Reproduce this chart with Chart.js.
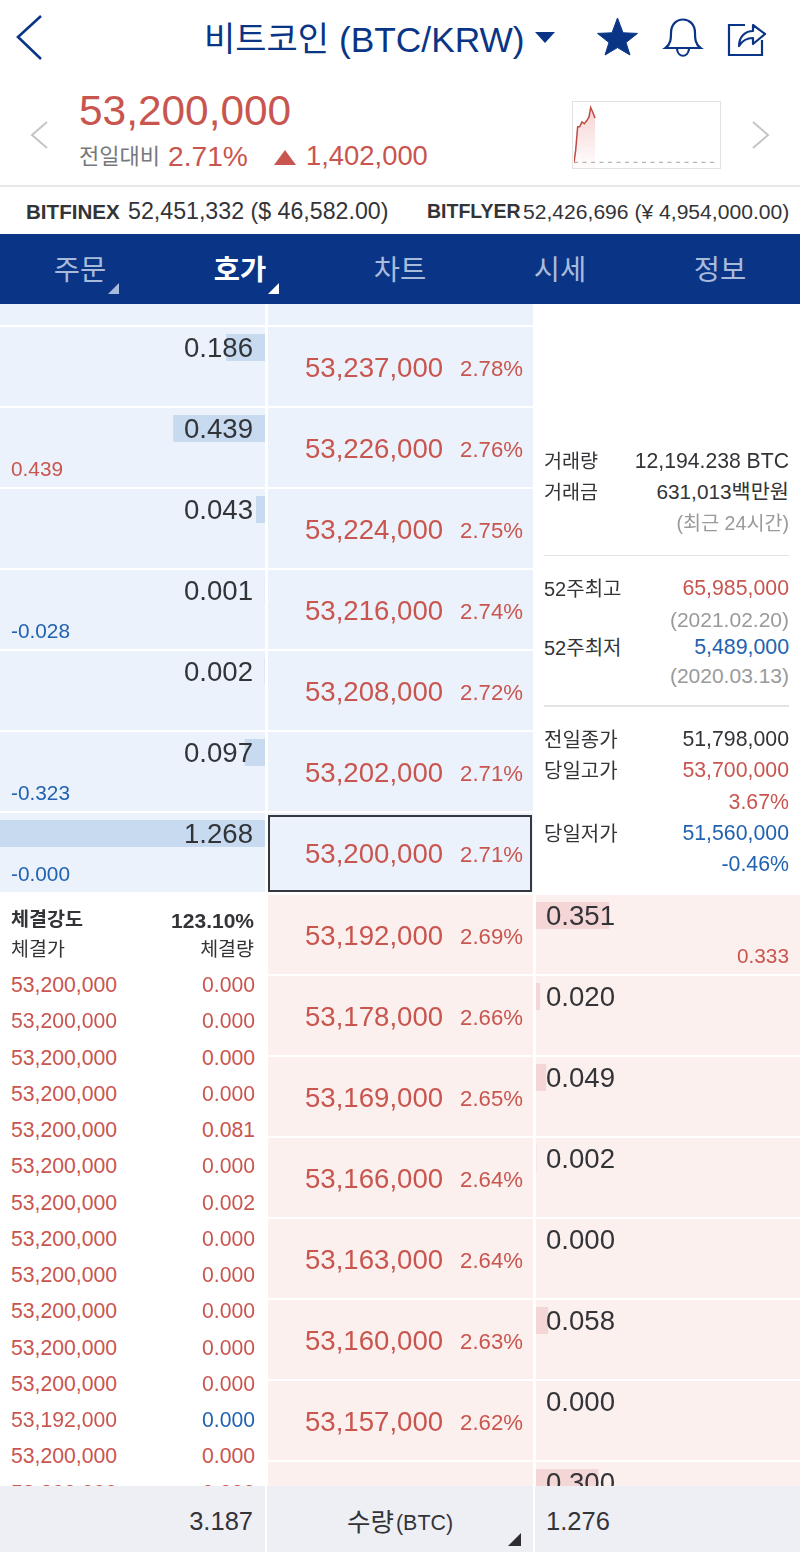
<!DOCTYPE html>
<html lang="ko"><head><meta charset="utf-8">
<script src="https://cdn.jsdelivr.net/npm/chart.js@4"></script>
<style>
html,body{margin:0;padding:0;background:#fff;width:800px;height:1552px;overflow:hidden;font-family:"Liberation Sans","Noto Sans CJK KR",sans-serif}
#page{position:relative;width:800px;height:1552px;overflow:hidden}
.b{position:absolute}
.t{position:absolute;white-space:nowrap;line-height:1;transform:translateY(-50%)}
canvas{position:absolute}
svg{position:absolute;left:0;top:0}
</style></head><body><div id="page"></div>
<script>
// ---------- data ----------
const askPrices=["53,237,000","53,226,000","53,224,000","53,216,000","53,208,000","53,202,000","53,200,000"];
const askPercents=["2.78%","2.76%","2.75%","2.74%","2.72%","2.71%","2.71%"];
const askVolumes=[0.186,0.439,0.043,0.001,0.002,0.097,1.268];
const askChanges=["","0.439","","-0.028","","-0.323","-0.000"];
const bidPrices=["53,192,000","53,178,000","53,169,000","53,166,000","53,163,000","53,160,000","53,157,000"];
const bidPercents=["2.69%","2.66%","2.65%","2.64%","2.64%","2.63%","2.62%"];
const bidVolumes=[0.351,0.020,0.049,0.002,0.000,0.058,0.000,0.300];
const bidChanges=["0.333"];
const volumeMax=1.268;
const tradePrices=["53,200,000","53,200,000","53,200,000","53,200,000","53,200,000","53,200,000","53,200,000","53,200,000","53,200,000","53,200,000","53,200,000","53,200,000","53,192,000","53,200,000","53,200,000"];
const tradeVolumes=["0.000","0.000","0.000","0.000","0.081","0.000","0.002","0.000","0.000","0.000","0.000","0.000","0.000","0.000","0.000"];
const sparkHours=[0,0.28,0.62,0.96,1.35,1.75,2.14,2.54,2.82,3.15,3.55];
const sparkPrices=[51798000,52200000,53000000,53000000,53160000,53100000,53200000,53330000,53650000,53500000,53290000];
const prevClose=51798000;
const tabs=["주문","호가","차트","시세","정보"];

// ---------- helpers ----------
const RED="#c9554f",BLUE="#2163b0",NAVY="#0a3586",DARK="#333438",GRAY="#9a9a9a";
const ASKBG="#ecf2fb",BIDBG="#fbf0ee";
const page=document.getElementById("page");
function box(x,y,w,h,bg,z,extra){const d=document.createElement("div");d.className="b";
  d.style.cssText=`left:${x}px;top:${y}px;width:${w}px;height:${h}px;background:${bg};z-index:${z||1};${extra||""}`;page.appendChild(d);return d;}
function txt(s,x,cy,size,color,align,weight,z){const d=document.createElement("div");d.className="t";d.textContent=s;
  let st=`top:${cy}px;font-size:${size}px;color:${color};z-index:${z||5};font-weight:${weight||400};`;
  st+=align==="r"?`right:${800-x}px;`:align==="c"?`left:${x}px;transform:translate(-50%,-50%);`:`left:${x}px;`;
  d.style.cssText=st;page.appendChild(d);return d;}
function cv(x,y,w,h,z){const c=document.createElement("canvas");c.width=w;c.height=h;
  c.style.cssText=`left:${x}px;top:${y}px;width:${w}px;height:${h}px;z-index:${z||3}`;page.appendChild(c);return c;}

// ---------- chrome ----------
txt("비트코인",204,39,34,NAVY);
txt("(BTC/KRW)",339,39.5,35.3,NAVY);
txt("53,200,000",79,111,42.4,RED);
txt("전일대비",79,157,22,"#77787c");
txt("2.71%",168,155.5,28.2,RED);
txt("1,402,000",306,155.5,27.4,RED);
box(0,185,800,2,"#e8e8e8");
txt("BITFINEX",26,211.5,20.6,DARK,"l",700);
txt("52,451,332 ($ 46,582.00)",128,211.5,23.2,DARK);
txt("BITFLYER",427,211.5,19.5,DARK,"l",700);
txt("52,426,696 (¥ 4,954,000.00)",523,211.5,21.1,DARK);
box(0,234,800,70,NAVY);
tabs.forEach((s,i)=>txt(s,80+160*i,270,28.5,i===1?"#fff":"#a9bbdb","c",i===1?700:400));

// ---------- rows ----------
box(0,304,265,21,ASKBG);box(268,304,265,21,ASKBG);
askPrices.forEach((p,i)=>{const y=327+81*i;
  box(0,y,265,79,ASKBG);box(268,y,265,79,ASKBG);
  txt(askVolumes[i].toFixed(3),253,348+81*i,27.6,DARK,"r");
  if(askChanges[i])txt(askChanges[i],11,y+61,20.8,askChanges[i][0]==="-"?BLUE:RED);
  txt(p,305,y+41,27.6,RED);
  txt(askPercents[i],523,y+42,22.2,RED,"r");
});
box(268,815,264,77,ASKBG,2,"box-sizing:border-box;border:2.5px solid #35383d");
bidVolumes.forEach((v,i)=>{const y=895+81*i;
  box(268,y,265,79,BIDBG);box(536,y,264,79,BIDBG);
  txt(v.toFixed(3),546,916+81*i,27.6,DARK);
  if(i<bidPrices.length){txt(bidPrices[i],305,y+41,27.6,RED);txt(bidPercents[i],523,y+42,22.2,RED,"r");}
});
txt(bidChanges[0],789,956,20.8,RED,"r");

// ---------- trade list ----------
txt("체결강도",11,920,19.6,DARK,"l",700);
txt("123.10%",254,919.5,21,DARK,"r",700);
txt("체결가",11,950,19.5,DARK);
txt("체결량",254,950,19.5,DARK,"r");
tradePrices.forEach((p,i)=>{const cy=985.2+36.25*i;
  txt(p,11,cy,21.2,RED);
  txt(tradeVolumes[i],255,cy,21.2,p==="53,192,000"?BLUE:RED,"r");
});

// ---------- info panel ----------
const L=544,R=789;
txt("거래량",L,462,19.6,DARK);txt("12,194.238 BTC",R,460.5,21.2,DARK,"r");
txt("거래금",L,493,19.6,DARK);txt("631,013백만원",R,492,20.8,DARK,"r");
txt("(최근 24시간)",R,524,19.6,GRAY,"r");
box(544,554.5,245,1.5,"#e4e4e4");
txt("52주최고",L,589,20,DARK);txt("65,985,000",R,588.5,21.3,RED,"r");
txt("(2021.02.20)",R,619,21,GRAY,"r");
txt("52주최저",L,648,20,DARK);txt("5,489,000",R,647.5,21.3,BLUE,"r");
txt("(2020.03.13)",R,675,21,GRAY,"r");
box(544,705,245,1.5,"#e4e4e4");
txt("전일종가",L,740,20,DARK);txt("51,798,000",R,739.5,21.3,DARK,"r");
txt("당일고가",L,771,20,DARK);txt("53,700,000",R,770.5,21.3,RED,"r");
txt("3.67%",R,802.5,21.3,RED,"r");
txt("당일저가",L,834,20,DARK);txt("51,560,000",R,833.5,21.3,BLUE,"r");
txt("-0.46%",R,865,21.3,BLUE,"r");

// ---------- footer ----------
box(0,1486,800,66,"#eeeff5",8);
box(265,1486,2,66,"#fff",8);box(533,1486,2,66,"#fff",8);
txt("3.187",253,1521.5,25.5,DARK,"r",400,9);
txt("수량",347,1523,25.5,DARK,"l",400,9);
txt("(BTC)",396,1524,21.4,DARK,"l",400,9);
txt("1.276",546,1521.5,25.5,DARK,"l",400,9);

// ---------- icons ----------
page.insertAdjacentHTML("beforeend",`<svg width="800" height="1552" style="z-index:10;pointer-events:none">
<path d="M41 16 L18 37 L41 59" fill="none" stroke="${NAVY}" stroke-width="2.6"/>
<path d="M535 32 H555 L545 43 Z" fill="${NAVY}"/>
<path d="M617.5 18 L623 32.8 L637.5 33.4 L626 42.5 L630 55 L617.5 47.6 L605 55 L609 42.5 L597.5 33.4 L612 32.8 Z" fill="${NAVY}" stroke="${NAVY}" stroke-width="1" stroke-linejoin="round"/>
<path d="M665.5 48 C671 44 671 38 671 33 C671 15 695 15 695 33 C695 38 695 44 700.5 48 Z M677 49 C678 58 688 58 689 49" fill="none" stroke="${NAVY}" stroke-width="2.2"/>
<path d="M745 25 H729 V55 H762 V40" fill="none" stroke="${NAVY}" stroke-width="2.2"/>
<path d="M739 46 C739 36 746 31 753 31 V25 L765 34 L753 44 V38 C747 38 742 41 739 46 Z" fill="none" stroke="${NAVY}" stroke-width="2.2" stroke-linejoin="round"/>
<path d="M47 122 L32 135 L47 148" fill="none" stroke="#c4c4c4" stroke-width="2"/>
<path d="M753 122 L768 135 L753 148" fill="none" stroke="#c4c4c4" stroke-width="2"/>
<path d="M274 165 L285 150 L296 165 Z" fill="${RED}"/>
<path d="M108 294 L119 283 V294 Z" fill="#a9bbdb"/>
<path d="M268 294 L279 283 V294 Z" fill="#fff"/>
<path d="M508 1546 L521 1533 V1546 Z" fill="#2e2e30"/>
</svg>`);

// ---------- charts ----------
Chart.defaults.animation=false;
Chart.defaults.responsive=false;
function volumeChart(canvas,values,reverse,color){
  return new Chart(canvas,{type:"bar",
    data:{labels:values.map((_,i)=>i),datasets:[{data:values,backgroundColor:color,barThickness:27,borderWidth:0,inflateAmount:0}]},
    options:{indexAxis:"y",maintainAspectRatio:false,layout:{padding:0},
      plugins:{legend:{display:false},tooltip:{enabled:false}},
      scales:{x:{display:false,min:0,max:volumeMax,reverse:reverse},y:{display:false}}}});
}
volumeChart(cv(0,307,265,81*askVolumes.length),askVolumes,true,"#c7daf0");
volumeChart(cv(536,875,264,81*bidVolumes.length),bidVolumes,false,"#f3d6d5");

box(572,101,149,68,"#fff",2,"box-sizing:border-box;border:1px solid #e2e2e2");
const sc=cv(574,102,142,66,4);
new Chart(sc,{type:"line",
  data:{datasets:[
    {data:sparkHours.map((h,i)=>({x:h,y:sparkPrices[i]})),borderColor:"#c04a46",borderWidth:1.5,pointRadius:0,tension:0,fill:"start",
     backgroundColor:(c)=>{const g=c.chart.ctx.createLinearGradient(0,4,0,60);g.addColorStop(0,"rgba(225,90,90,.28)");g.addColorStop(1,"rgba(225,90,90,.03)");return g;}},
    {data:[{x:0,y:prevClose},{x:24,y:prevClose}],borderColor:"#b5b5b5",borderWidth:1.2,borderDash:[4,4.5],pointRadius:0,fill:false}
  ]},
  options:{maintainAspectRatio:false,layout:{padding:0},plugins:{legend:{display:false},tooltip:{enabled:false}},
    scales:{x:{type:"linear",display:false,min:0,max:24},y:{display:false,min:51605000,max:53835000}}}});
</script></body></html>
